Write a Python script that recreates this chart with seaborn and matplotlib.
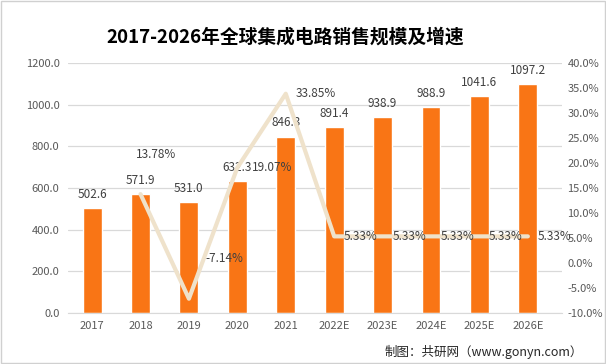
import numpy as np
import matplotlib
matplotlib.use("Agg")
import matplotlib.pyplot as plt
import seaborn as sns
import pandas as pd
from matplotlib.patches import Rectangle

years = ["2017", "2018", "2019", "2020", "2021", "2022E", "2023E", "2024E", "2025E", "2026E"]
sales = [502.6, 571.9, 531.0, 632.3, 846.3, 891.4, 938.9, 988.9, 1041.6, 1097.2]
growth_years = ["2018", "2019", "2020", "2021", "2022E", "2023E", "2024E", "2025E", "2026E"]
growth = [13.78, -7.14, 19.07, 33.85, 5.33, 5.33, 5.33, 5.33, 5.33]

sns.set_style("white")
plt.rcParams['font.family'] = ['Noto Sans CJK SC', 'DejaVu Sans']

bar_color = "#F97515"
line_color = "#EFE2CB"
tick_color = "#595959"
label_color = "#404040"

fig = plt.figure(figsize=(6.06, 3.64), dpi=100)
ax = fig.add_axes([0.112, 0.14, 0.815, 0.687])

df = pd.DataFrame({"year": years, "sales": sales})
sns.barplot(data=df, x="year", y="sales", color=bar_color, saturation=1, width=0.39, ax=ax, zorder=2)

ax.set_ylim(0, 1200)
ax.set_yticks(np.arange(0, 1201, 200))
ax.set_yticklabels([f"{v:.1f}" for v in np.arange(0, 1201, 200)], fontsize=8, color=tick_color)
ax.set_xticks(range(len(years)))
ax.set_xticklabels(years, fontsize=8, color=tick_color)
ax.set_xlabel("")
ax.set_ylabel("")
ax.yaxis.grid(True, color="#D9D9D9", linewidth=0.9, zorder=0)
ax.set_axisbelow(True)
for s in ["top", "right", "left"]:
    ax.spines[s].set_visible(False)
ax.spines["bottom"].set_color("#D9D9D9")
ax.tick_params(length=0, pad=6)
ax.set_xlim(-0.5, 9.7)

for i, v in enumerate(sales):
    ax.text(i, v + 35, f"{v:.1f}", ha="center", va="bottom", fontsize=8.5, color=label_color)

ax2 = ax.twinx()
gx = [years.index(y) for y in growth_years]
sns.lineplot(x=gx, y=growth, color=line_color, linewidth=3, ax=ax2, zorder=3)
ax2.set_ylim(-10, 40)
ax2.set_yticks(np.arange(-10, 41, 5))
ax2.set_yticklabels([f"{v:.1f}%" for v in np.arange(-10, 41, 5)], fontsize=8, color=tick_color)
ax2.set_ylabel("")
for s in ["top", "right", "left", "bottom"]:
    ax2.spines[s].set_visible(False)
ax2.tick_params(length=0, pad=4)

offsets = {0: (0.32, 8.0), 1: (0.73, 8.0)}
for k, (x, v) in enumerate(zip(gx, growth)):
    dx, dy = offsets.get(k, (0.3 if k == 2 else 0.2, 0.0))
    ax2.text(x + dx, v + dy, f"{v:.2f}%", ha="center" if k in offsets else "left",
             va="center", fontsize=8.5, color=label_color)

fig.text(0.47, 0.898, "2017-2026年全球集成电路销售规模及增速", ha="center", va="center",
         fontsize=13.5, fontweight="bold", color="black")
fig.text(0.962, 0.033, "制图：共研网（www.gonyn.com）", ha="right", va="center",
         fontsize=9, color="#262626")

fig.patches.append(Rectangle((0.002, 0.003), 0.996, 0.994, transform=fig.transFigure,
                             fill=False, edgecolor="#D0D0D0", linewidth=1))

fig.savefig("out.png", dpi=100)
